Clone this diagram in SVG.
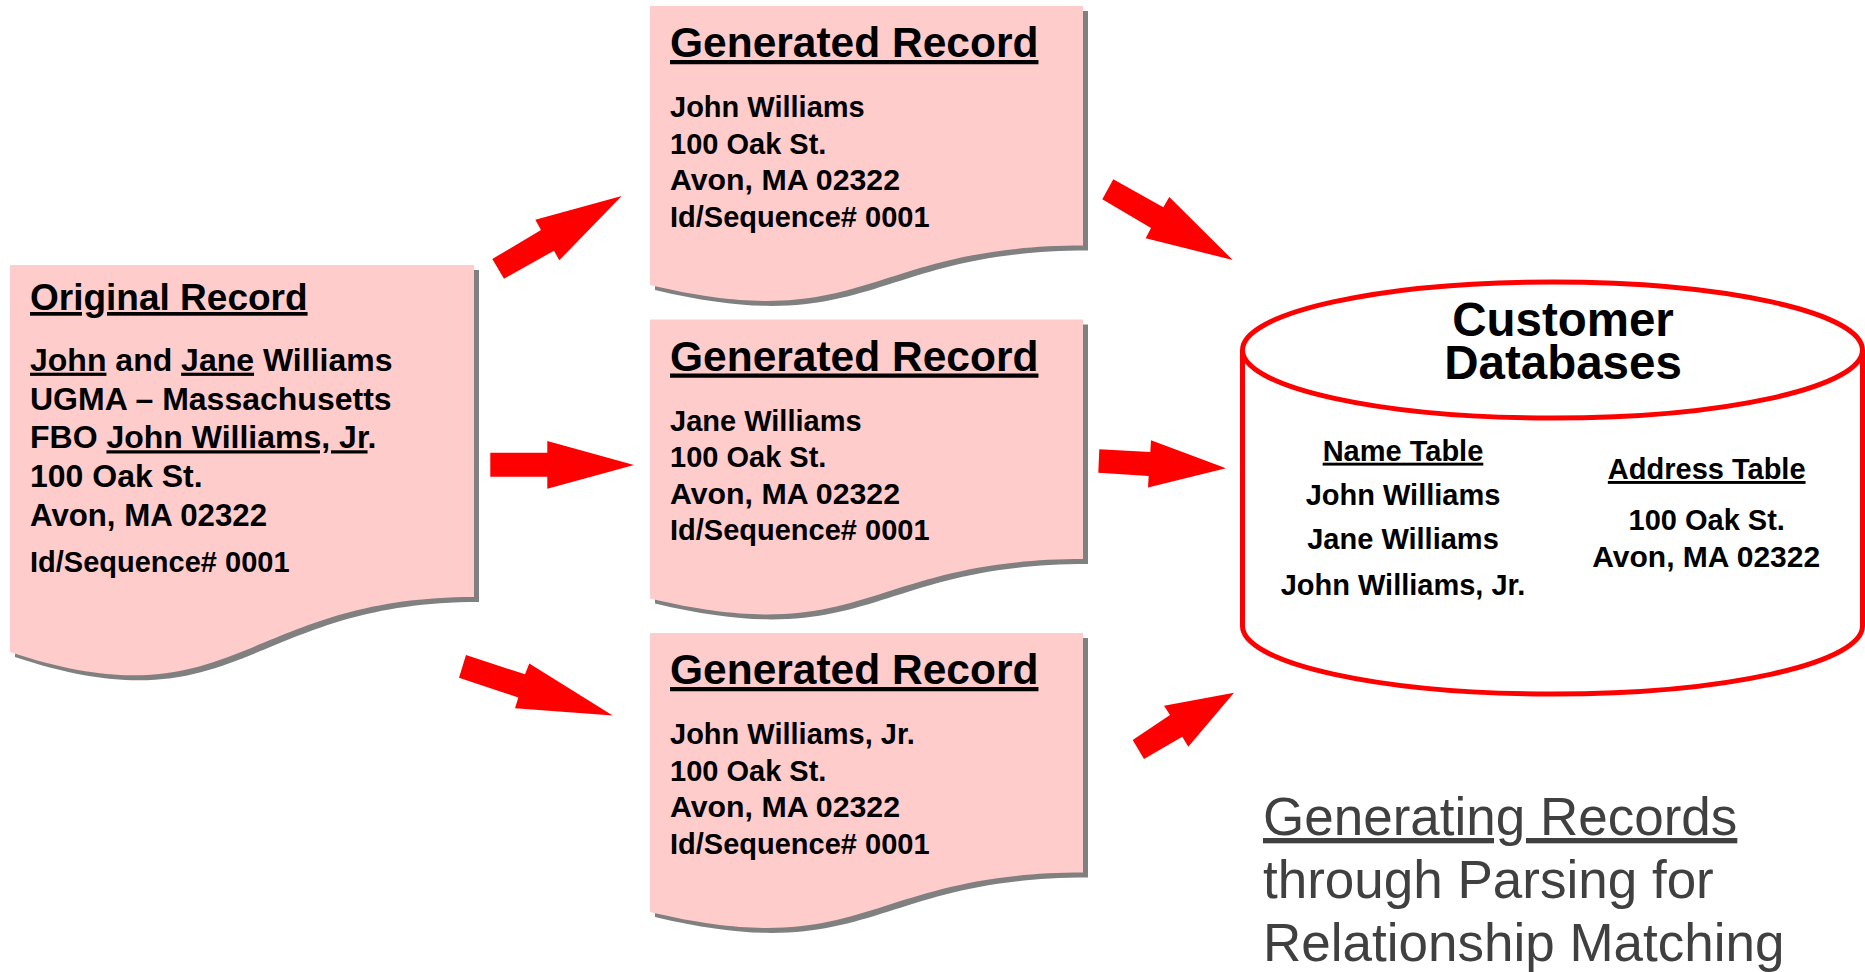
<svg xmlns="http://www.w3.org/2000/svg" width="1865" height="972" viewBox="0 0 1865 972">
<style>
.doc{fill:#FFCCCC}
.shadow{fill:#808080}
.t{font-family:"Liberation Sans",Arial,Helvetica,sans-serif;font-weight:bold;fill:#000}
.title{font-size:42.5px;text-decoration:underline}
.otitle{font-size:37px;text-decoration:underline}
.body{font-size:29px}
.obody{font-size:32px}
.u{text-decoration:underline}
.arrow{fill:#FF0000}
.db{fill:#fff;stroke:#FF0000;stroke-width:5}
.cap{font-family:"Liberation Sans",Arial,Helvetica,sans-serif;font-size:53px;fill:#404040}
</style>
<defs>
<path id="docGen" d="M0,0 H433 V239.6 C216.5,239.6 216.5,330.8 0,279 Z"/>
<path id="docOrig" d="M0,0 H464 V332 C232,332 225,462 0,387 Z"/>
</defs>

<g id="original-record">
<use href="#docOrig" class="shadow" x="15" y="270"/>
<use href="#docOrig" class="doc" x="10" y="265"/>
<text class="t otitle" x="30" y="310">Original Record</text>
<text class="t obody" x="30" y="370.7"><tspan class="u">John</tspan> and <tspan class="u">Jane</tspan> Williams</text>
<text class="t obody" x="30" y="410">UGMA – Massachusetts</text>
<text class="t obody" x="30" y="448.3">FBO <tspan class="u">John Williams, Jr</tspan>.</text>
<text class="t obody" x="30" y="487.3">100 Oak St.</text>
<text class="t obody" x="30" y="526" textLength="237" lengthAdjust="spacingAndGlyphs">Avon, MA 02322</text>
<text class="t body" x="30" y="571.7">Id/Sequence# 0001</text>
</g>

<g id="generated-record-1">
<use href="#docGen" class="shadow" x="655" y="11"/>
<use href="#docGen" class="doc" x="650" y="6"/>
<text class="t title" x="670" y="57">Generated Record</text>
<text class="t body" x="670" y="117">John Williams</text>
<text class="t body" x="670" y="153.5">100 Oak St.</text>
<text class="t body" x="670" y="190" textLength="230" lengthAdjust="spacingAndGlyphs">Avon, MA 02322</text>
<text class="t body" x="670" y="226.5">Id/Sequence# 0001</text>
</g>

<g id="generated-record-2">
<use href="#docGen" class="shadow" x="655" y="324.5"/>
<use href="#docGen" class="doc" x="650" y="319.5"/>
<text class="t title" x="670" y="370.5">Generated Record</text>
<text class="t body" x="670" y="430.5">Jane Williams</text>
<text class="t body" x="670" y="467">100 Oak St.</text>
<text class="t body" x="670" y="503.5" textLength="230" lengthAdjust="spacingAndGlyphs">Avon, MA 02322</text>
<text class="t body" x="670" y="540">Id/Sequence# 0001</text>
</g>

<g id="generated-record-3">
<use href="#docGen" class="shadow" x="655" y="638"/>
<use href="#docGen" class="doc" x="650" y="633"/>
<text class="t title" x="670" y="684">Generated Record</text>
<text class="t body" x="670" y="744">John Williams, Jr.</text>
<text class="t body" x="670" y="780.5">100 Oak St.</text>
<text class="t body" x="670" y="817" textLength="230" lengthAdjust="spacingAndGlyphs">Avon, MA 02322</text>
<text class="t body" x="670" y="853.5">Id/Sequence# 0001</text>
</g>

<g id="customer-databases">
<path class="db" d="M1242.5,350 V626 A310,68 0 0 0 1862.5,626 V350"/>
<ellipse class="db" cx="1552.5" cy="350" rx="310" ry="68"/>
<text class="t" x="1563" y="335.7" font-size="47.5" text-anchor="middle">Customer</text>
<text class="t" x="1563" y="379.3" font-size="47.5" text-anchor="middle">Databases</text>
<text class="t u" x="1403" y="460.7" font-size="29" text-anchor="middle">Name Table</text>
<text class="t" x="1403" y="505" font-size="29" text-anchor="middle">John Williams</text>
<text class="t" x="1403" y="549.3" font-size="29" text-anchor="middle">Jane Williams</text>
<text class="t" x="1403" y="595" font-size="29" text-anchor="middle">John Williams, Jr.</text>
<text class="t u" x="1706.7" y="479" font-size="29" text-anchor="middle">Address Table</text>
<text class="t" x="1706.7" y="530" font-size="29" text-anchor="middle">100 Oak St.</text>
<text class="t" x="1706.2" y="566.7" font-size="30" text-anchor="middle">Avon, MA 02322</text>
</g>

<g id="connectors">
<polygon class="arrow" points="492.3,259 541,230 535.3,219.7 621.7,196 559.3,260.3 554,250.7 504,278.7"/>
<polygon class="arrow" points="490.3,452.7 547.3,452.7 547.3,441 634,465 547.3,488.7 547.3,476.7 490.3,476.7"/>
<polygon class="arrow" points="466,655 525,674.3 529.3,663.6 612.7,715.4 515,708.2 518.3,697.5 459,677.7"/>
<polygon class="arrow" points="1113.3,179.3 1163.3,207.3 1169.3,197 1232.7,260 1145.7,238.3 1151,228 1102.3,199.3"/>
<polygon class="arrow" points="1099.3,449.3 1150.3,452 1151,440.3 1226,468.3 1148,487.6 1148.7,476.1 1098.3,472.7"/>
<polygon class="arrow" points="1132.7,740 1170,715 1164,705.7 1234,692.7 1188.3,746.7 1182.3,736.7 1144,759"/>
</g>

<g id="caption">
<text class="cap u" x="1263" y="835">Generating Records</text>
<text class="cap" x="1263" y="898">through Parsing for</text>
<text class="cap" x="1263" y="961">Relationship Matching</text>
</g>
</svg>
